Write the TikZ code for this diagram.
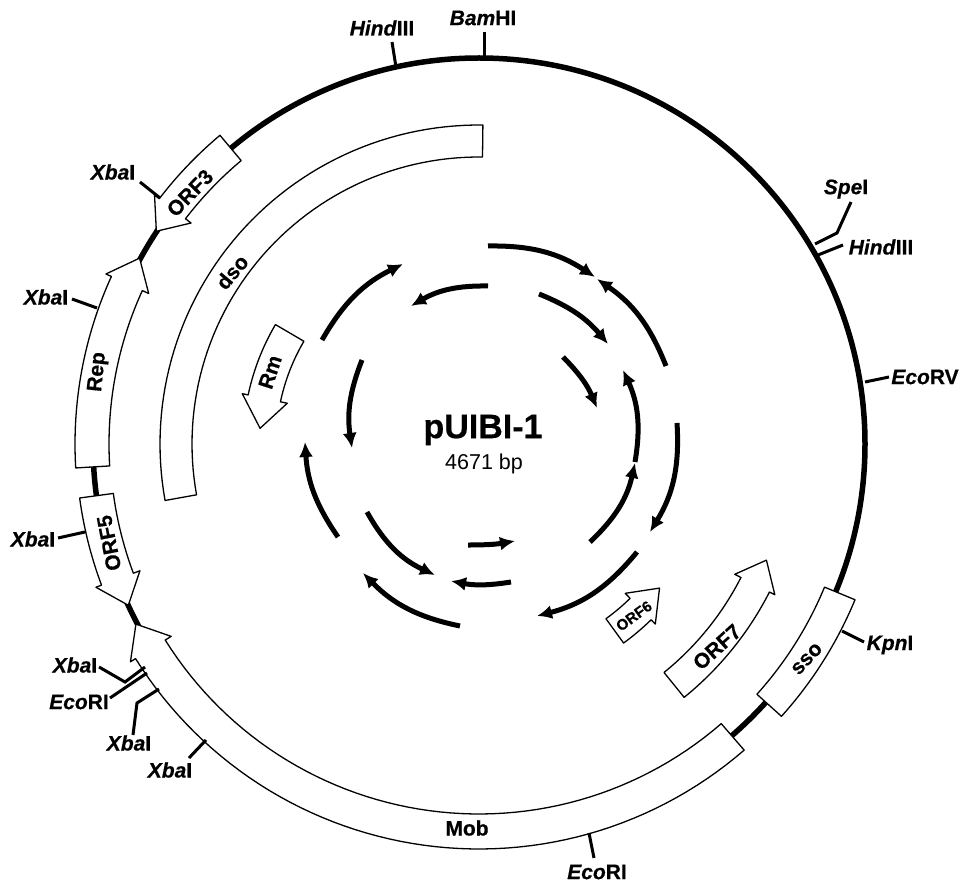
\documentclass[tikz,border=0pt]{standalone}
\usepackage{fontspec}
\setmainfont{Liberation Sans}[BoldFeatures={FakeBold=0.5},BoldItalicFeatures={FakeBold=0.5}]
\usetikzlibrary{arrows.meta}

\tikzset{
  backbone/.style={line width=5.5pt},
  genebox/.style={draw,fill=white,line width=1.3pt,line join=round},
  sitetick/.style={line width=3pt},
  ringarrow/.style={line width=5pt,-{Latex[length=15pt,width=14pt]}},
  sitelabel/.style={font=\fontsize{21}{23}\selectfont\bfseries,inner sep=0pt},
  genelabel/.style={font=\fontsize{21}{23}\selectfont\bfseries,inner sep=0pt},
}

\begin{document}
\begin{tikzpicture}[x=1pt,y=-1pt]

\useasboundingbox (0,0) rectangle (961,882);

\coordinate (O) at (479,444);

\draw[backbone] (O) circle[radius=386pt];

\begin{scope}[shift={(O)}]
\foreach \atail/\aneck/\atip/\rin/\rout in {
  130/142.5/146.6/370/403,
  183.4/155.5/151.3/370/404,
  187.7/200.5/204.7/369/403,
  -49.1/-148/-152.3/370/405,
  -51/-27/-22/294/326,
  -54/-45.6/-38.6/216/246,
  149.6/168/175.9/203/236}
  \draw[genebox] plot[domain=\atail:\aneck,samples=60] ({0-\x}:\rin)
    -- ({0-\aneck}:{\rin-7})
    -- ({0-\atip}:{(\rin+\rout)/2})
    -- ({0-\aneck}:{\rout+6})
    -- plot[domain=\aneck:\atail,samples=60] ({0-\x}:\rout) -- cycle;
\foreach \atail/\ahead/\rin/\rout in {
  -22.5/-42/374/407,
  89.3/190.2/287/319}
  \draw[genebox] plot[domain=\atail:\ahead,samples=60] ({0-\x}:\rin)
    -- plot[domain=\ahead:\atail,samples=60] ({0-\x}:\rout) -- cycle;
\end{scope}

\foreach \sx/\sy/\ex/\ey/\bendby in {
  488/246/595/277/17,
  666/366/597/279/-17,
  677/423/650/532/17.5,
  637/552/537/616/18,
  460/626/363/573/17,
  338/537/305/442/15.5,
  322/340/403/264/17,
  488/286/411/306/-15.5,
  362/360/352/448/-15,
  367/512/435/575/-18,
  511/582/451/581/10,
  468/545/515/541/-5,
  590/542/635/463/-17,
  635/462/623/370/-17,
  563/357/597/408/11,
  539/294/608/344/14}
  \draw[ringarrow] (\sx,\sy) to[bend left=\bendby] (\ex,\ey);

\coordinate (hindA) at (392,42);
\coordinate (hindB) at (396,67);
\coordinate (bamA) at (484,32);
\coordinate (bamB) at (484,58);
\coordinate (speA) at (851,202);
\coordinate (speB) at (837,233);
\coordinate (speC) at (815,244);
\coordinate (hindC) at (843,245);
\coordinate (hindD) at (818,255);
\coordinate (ecovA) at (889,377);
\coordinate (ecovB) at (865,382);
\coordinate (kpnA) at (864,642);
\coordinate (kpnB) at (842,631);
\coordinate (ecoA) at (594,858);
\coordinate (ecoB) at (589,833);
\coordinate (xbaA) at (140,182);
\coordinate (xbaB) at (160,198);
\coordinate (xbaC) at (72,299);
\coordinate (xbaD) at (97,308);
\coordinate (xbaE) at (58,538);
\coordinate (xbaF) at (85,532);
\coordinate (xbaG) at (99,667);
\coordinate (xbaH) at (125,682);
\coordinate (xbaI) at (145,667);
\coordinate (ecoC) at (110,698);
\coordinate (ecoD) at (147,673);
\coordinate (xbaJ) at (133,735);
\coordinate (xbaK) at (137,703);
\coordinate (xbaL) at (159,689);
\coordinate (xbaM) at (189,758);
\coordinate (xbaN) at (206,740);

\draw[sitetick] (hindA)--(hindB);
\draw[sitetick] (bamA)--(bamB);
\draw[sitetick] (speA)--(speB)--(speC);
\draw[sitetick] (hindC)--(hindD);
\draw[sitetick] (ecovA)--(ecovB);
\draw[sitetick] (kpnA)--(kpnB);
\draw[sitetick] (ecoA)--(ecoB);
\draw[sitetick] (xbaA)--(xbaB);
\draw[sitetick] (xbaC)--(xbaD);
\draw[sitetick] (xbaE)--(xbaF);
\draw[sitetick] (xbaG)--(xbaH)--(xbaI);
\draw[sitetick] (ecoC)--(ecoD);
\draw[sitetick] (xbaJ)--(xbaK)--(xbaL);
\draw[sitetick] (xbaM)--(xbaN);

\node[sitelabel] (hindtop) at (382,28) {\textit{Hind}III};
\node[sitelabel] (bamtop) at (483,18) {\textit{Bam}HI};
\node[sitelabel] (sperite) at (846,189) {\textit{Spe}I};
\node[sitelabel] (hindrite) at (881,247) {\textit{Hind}III};
\node[sitelabel] (ecovrite) at (925,377) {\textit{Eco}RV};
\node[sitelabel] (kpnrite) at (890,645) {\textit{Kpn}I};
\node[sitelabel] (ecobot) at (597,872) {\textit{Eco}RI};
\node[sitelabel] (xbaone) at (113,172) {\textit{Xba}I};
\node[sitelabel] (xbatwo) at (46,297) {\textit{Xba}I};
\node[sitelabel] (xbathree) at (33,539) {\textit{Xba}I};
\node[sitelabel] (xbafour) at (75,665) {\textit{Xba}I};
\node[sitelabel] (ecoleft) at (79,702) {\textit{Eco}RI};
\node[sitelabel] (xbafive) at (129,743) {\textit{Xba}I};
\node[sitelabel] (xbasix) at (170,770) {\textit{Xba}I};

\node[genelabel,rotate=46] (orfthree) at (190,193) {ORF3};
\node[genelabel,rotate=84] (rep) at (98,372) {Rep};
\node[genelabel,rotate=50] (dso) at (232,272) {dso};
\node[genelabel,rotate=72] (rm) at (270,372) {Rm};
\node[genelabel,rotate=101] (orffive) at (109,543) {ORF5};
\node[genelabel,rotate=42] (orfseven) at (717,647) {ORF7};
\node[genelabel,rotate=36,font=\fontsize{15}{17}\selectfont\bfseries] (orfsix) at (634,616) {ORF6};
\node[genelabel,rotate=47] (sso) at (807,659) {sso};
\node[genelabel] (mob) at (467,828) {Mob};

\node[inner sep=0pt,font=\fontsize{34}{36}\selectfont\bfseries] (name) at (483,430) {pUIBI-1};
\node[inner sep=0pt,font=\fontsize{21.5}{23}\selectfont] (size) at (484,464) {4671 bp};

\end{tikzpicture}
\end{document}
